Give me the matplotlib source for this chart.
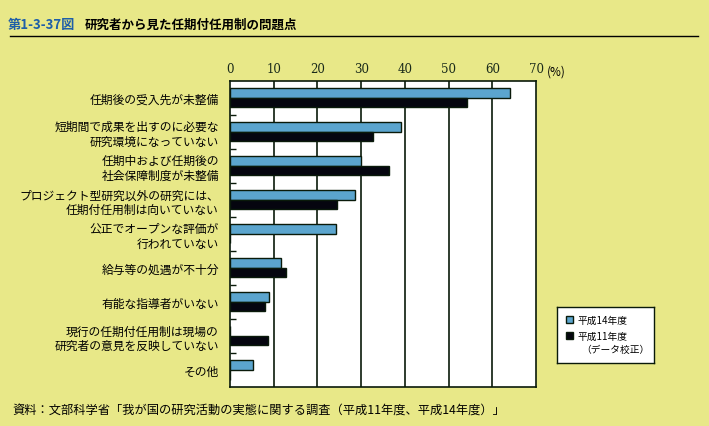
import numpy as np
import matplotlib.pyplot as plt

plt.rcParams['font.family'] = ['Noto Sans CJK JP', 'DejaVu Sans']

categories = [
    '任期後の受入先が未整備',
    '短期間で成果を出すのに必要な\n研究環境になっていない',
    '任期中および任期後の\n社会保障制度が未整備',
    'プロジェクト型研究以外の研究には、\n任期付任用制は向いていない',
    '公正でオープンな評価が\n行われていない',
    '給与等の処遇が不十分',
    '有能な指導者がいない',
    '現行の任期付任用制は現場の\n研究者の意見を反映していない',
    'その他',
]
h14 = [64.1, 39.1, 29.9, 28.7, 24.3, 11.7, 9.0, 0, 5.2]
h11 = [54.3, 32.6, 36.4, 24.4, 0, 12.7, 8.0, 8.6, 0]
xticks = [0, 10, 20, 30, 40, 50, 60, 70]

bg = '#E8E888'
blue = '#5BA5CE'
dark = '#0A1A0A'

fig = plt.figure(figsize=(7.09, 4.27), dpi=100, facecolor=bg)
ax = fig.add_axes([0.3244, 0.0913, 0.4316, 0.7174])
ax.set_facecolor('white')

y = np.arange(len(categories))
hb = 0.28
ax.barh(y - 0.14, h14, height=hb, color=blue, edgecolor=dark, linewidth=1, zorder=3)
ax.barh(y + 0.14, h11, height=hb, color='#05050F', edgecolor=dark, linewidth=1, zorder=3)

ax.set_xlim(0, 70)
ax.set_ylim(len(categories) - 0.5, -0.5)
ax.set_xticks(xticks)
ax.xaxis.tick_top()
ax.tick_params(axis='x', length=0, pad=4, labelsize=8.5, colors='#1a2a1a')
ax.set_xticklabels([str(t) for t in xticks], family='DejaVu Serif')
for t in xticks[1:-1]:
    ax.axvline(t, color=dark, linewidth=1.2, zorder=1)

ax.set_yticks(y)
ax.set_yticklabels(categories, fontsize=8.5, linespacing=1.15)
ax.tick_params(axis='y', which='major', length=0, pad=8)
ax.set_yticks(y[:-1] + 0.5, minor=True)
ax.tick_params(axis='y', which='minor', direction='in', length=4, width=1, color=dark)

for s in ax.spines.values():
    s.set_color(dark)
    s.set_linewidth(1.2)

fig.text(547 / 709, 1 - 72 / 427, '(%)', fontsize=8.5, ha='left', va='center')

# legend box
lg = fig.add_axes([557 / 709, 1 - 364 / 427, 97 / 709, 56 / 427])
lg.set_xticks([])
lg.set_yticks([])
lg.set_facecolor('white')
for s in lg.spines.values():
    s.set_color(dark)
    s.set_linewidth(1)
lg.set_xlim(0, 97)
lg.set_ylim(56, 0)
lg.add_patch(plt.Rectangle((9, 9), 7, 7, facecolor=blue, edgecolor=dark, linewidth=1))
lg.text(20, 12.5, '平成14年度', fontsize=7, va='center')
lg.add_patch(plt.Rectangle((9, 25), 7, 7, facecolor='#05050F', edgecolor=dark, linewidth=1))
lg.text(20, 28.5, '平成11年度', fontsize=7, va='center')
lg.text(24, 42, '（データ校正）', fontsize=7, va='center')

# title
fig.text(8 / 709, 1 - 25 / 427, '第1-3-37図', fontsize=9.5, color='#1F5FA8', va='center', weight='bold')
fig.text(85 / 709, 1 - 25 / 427, '研究者から見た任期付任用制の問題点', fontsize=9, va='center', weight='bold')
fig.add_artist(plt.Line2D([10 / 709, 698 / 709], [1 - 37 / 427, 1 - 37 / 427], color='black', linewidth=1))

fig.text(12 / 709, 1 - 410 / 427,
         '資料：文部科学省「我が国の研究活動の実態に関する調査（平成11年度、平成14年度）」',
         fontsize=8.8, va='center')

fig.savefig('out.png', dpi=100, facecolor=bg)
